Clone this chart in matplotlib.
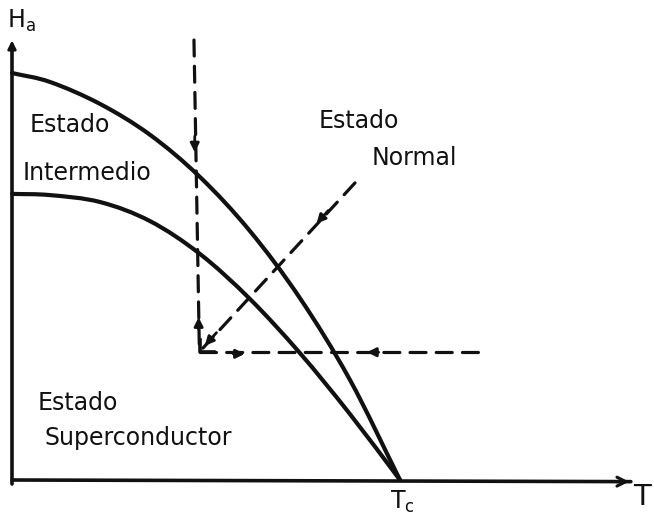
import matplotlib
matplotlib.use("Agg")
import matplotlib.pyplot as plt
from matplotlib.path import Path
from matplotlib.patches import PathPatch
import numpy as np

# Reduced temperature T/Tc and reduced field for the two phase boundaries
t_curve = [0.0, 0.098, 0.227, 0.356, 0.485, 0.613, 0.742, 0.871, 1.0]
h_upper = [1.0, 0.978, 0.924, 0.848, 0.744, 0.612, 0.447, 0.246, 0.0]
h_lower = [0.703, 0.700, 0.683, 0.636, 0.555, 0.445, 0.312, 0.162, 0.0]

# Field / temperature paths (dashed) with their arrow marks
path_down_t = [0.469, 0.483]
path_down_h = [1.081, 0.314]
path_horiz_t = [0.485, 1.219]
path_horiz_h = [0.314, 0.314]
path_diag_t = [0.884, 0.492]
path_diag_h = [0.730, 0.324]

labels_region = ["Estado", "Intermedio", "Estado", "Normal", "Estado", "Superconductor"]

INK = "#111111"

fig = plt.figure(figsize=(6.54, 5.17), dpi=100)
ax = fig.add_axes([0, 0, 1, 1])
ax.set_xlim(-0.0309, 1.6546)
ax.set_ylim(-0.0909, 1.1794)
ax.axis("off")


def smooth_path(xs, ys):
    """Catmull-Rom curve through the given points, as cubic Bezier segments."""
    p = np.column_stack([xs, ys]).astype(float)
    ext = np.vstack([2 * p[0] - p[1], p, 2 * p[-1] - p[-2]])
    verts = [p[0]]
    codes = [Path.MOVETO]
    for i in range(1, len(ext) - 2):
        p0, p1, p2, p3 = ext[i - 1], ext[i], ext[i + 1], ext[i + 2]
        verts += [p1 + (p2 - p0) / 6.0, p2 - (p3 - p1) / 6.0, p2]
        codes += [Path.CURVE4] * 3
    return Path(verts, codes)


# axes drawn as arrows
ax.plot([0, 0], [-0.01, 1.07], color=INK, lw=2.6, solid_capstyle="round")
ax.annotate("", xy=(0, 1.087), xytext=(0, 1.05),
            arrowprops=dict(arrowstyle="-|>", color=INK, lw=2.0, mutation_scale=12))
ax.plot([0, 1.595], [0.0, -0.004], color=INK, lw=2.6, solid_capstyle="round")
ax.annotate("", xy=(1.598, -0.004), xytext=(1.55, -0.004),
            arrowprops=dict(arrowstyle="->", color=INK, lw=2.2, mutation_scale=16))

# phase boundaries
for hs in (h_upper, h_lower):
    ax.add_patch(PathPatch(smooth_path(t_curve, hs), facecolor="none", edgecolor=INK,
                           lw=3.0, capstyle="round", joinstyle="round"))

# dashed paths
dash = dict(color=INK, lw=2.3, linestyle=(0, (5, 3.2)), dash_capstyle="round")
ax.plot(path_down_t, path_down_h, **dash)
ax.plot(path_horiz_t, path_horiz_h, **dash)
ax.plot(path_diag_t, path_diag_h, **dash)
# corner mark
ax.plot([0.485, 0.485, 0.52], [0.345, 0.314, 0.314], color=INK, lw=2.6)


def arrow_mark(t0, h0, dt, dh, scale=13):
    ax.annotate("", xy=(t0, h0), xytext=(t0 - dt, h0 - dh),
                arrowprops=dict(arrowstyle="-|>", color=INK, lw=2.0,
                                mutation_scale=scale, shrinkA=0, shrinkB=0))


arrow_mark(0.471, 0.805, 0.0, -0.04)
arrow_mark(0.481, 0.400, 0.0, 0.03)
arrow_mark(0.600, 0.310, 0.03, 0.0)
arrow_mark(0.915, 0.314, -0.03, 0.0)
arrow_mark(0.785, 0.630, -0.03, -0.032)
arrow_mark(0.497, 0.330, -0.03, -0.032)

txt = dict(color=INK, fontsize=17, family="DejaVu Sans", va="baseline", ha="left")
ax.text(0.046, 0.855, labels_region[0], **txt)
ax.text(0.028, 0.737, labels_region[1], **txt)
ax.text(0.789, 0.865, labels_region[2], **txt)
ax.text(0.928, 0.774, labels_region[3], **txt)
ax.text(0.067, 0.172, labels_region[4], **txt)
ax.text(0.085, 0.086, labels_region[5], **txt)

ax.text(-0.012, 1.11, r"$\mathregular{H_a}$", color=INK, fontsize=17, va="baseline", ha="left")
ax.text(0.975, -0.07, r"$\mathregular{T_c}$", color=INK, fontsize=17, va="baseline", ha="left")
ax.text(1.601, -0.062, "T", color=INK, fontsize=21, va="baseline", ha="left")

fig.savefig("out.png", dpi=100, facecolor="white")
